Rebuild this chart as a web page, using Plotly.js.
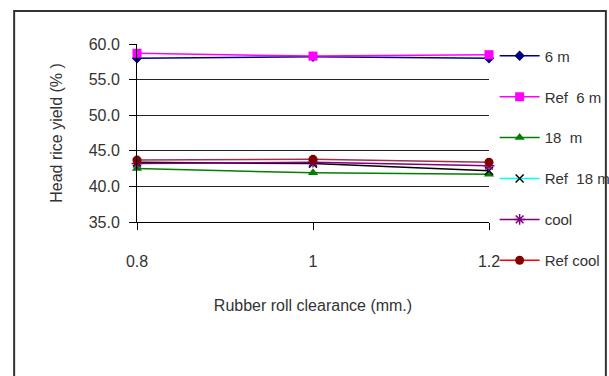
<!DOCTYPE html>
<html>
<head>
<meta charset="utf-8">
<script src="https://cdn.plot.ly/plotly-3.0.1.min.js"></script>
<style>html,body{margin:0;padding:0;background:#fff;}#chart{width:609px;height:376px;}</style>
</head>
<body>
<div id="chart"></div>
<script>
const clearance = [0.8, 1.0, 1.2];
const tickLabels = ["0.8", "1", "1.2"];
const yTicks = [35, 40, 45, 50, 55, 60];
const yTickLabels = ["35.0", "40.0", "45.0", "50.0", "55.0", "60.0"];

const seriesNames = ["6 m", "Ref  6 m", "18  m", "Ref  18 m", "cool", "Ref cool"];
const m6 = [58.0, 58.2, 58.0];
const ref6 = [58.7, 58.3, 58.5];
const m18 = [42.5, 41.9, 41.7];
const ref18 = [43.4, 43.2, 42.2];
const cool = [43.2, 43.4, 42.9];
const refCool = [43.7, 43.8, 43.4];

const plotData = [m6, ref6, m18, ref18, cool, refCool];
const lineColors = ["#000080", "#ff00ff", "#008000", "#000000", "#800080", "#a0304a"];
const legendLineColors = ["#000080", "#ff00ff", "#008000", "#00ffff", "#800080", "#ff0000"];
const markerSymbols = ["diamond", "square", "triangle-up", "x-thin-open", "asterisk-open", "circle"];
const markerColors = ["#000080", "#ff00ff", "#008000", "#000000", "#800080", "#800000"];
const markerSizes = [8, 9, 9, 8, 9, 9];

const drawOrder = [0, 2, 3, 4, 5, 1];
const traces = [];
drawOrder.forEach(i => {
  traces.push({
    x: clearance, y: plotData[i], type: "scatter", mode: "lines+markers",
    name: seriesNames[i], showlegend: false, cliponaxis: false,
    line: {color: lineColors[i], width: 1.5},
    marker: {symbol: markerSymbols[i], size: markerSizes[i], color: markerColors[i],
             line: {color: markerColors[i], width: (i === 3 || i === 4) ? 1.5 : 0}}
  });
});
seriesNames.forEach((nm, i) => {
  traces.push({
    x: [null], y: [null], type: "scatter", mode: "lines+markers",
    name: nm, legendgroup: "g" + i, showlegend: true,
    line: {color: legendLineColors[i], width: 1.5},
    marker: {symbol: markerSymbols[i], size: markerSizes[i], color: markerColors[i],
             line: {color: markerColors[i], width: (i === 3 || i === 4) ? 1.5 : 0}}
  });
});

const fam = "Liberation Sans, Arial, sans-serif";
const txt = "#333";

const layout = {
  width: 609, height: 376,
  margin: {l: 137, r: 120, t: 44, b: 154, autoexpand: false},
  paper_bgcolor: "#fff", plot_bgcolor: "#fff",
  font: {family: fam, size: 16, color: txt},
  showlegend: true,
  legend: {x: 1.016, xanchor: "left", y: 1.025, yanchor: "top",
           traceorder: "grouped", tracegroupgap: 18.4, maxheight: 1,
           font: {family: fam, size: 15, color: txt},
           bgcolor: "rgba(0,0,0,0)", itemwidth: 40},
  xaxis: {
    range: [0.8, 1.2], tickvals: clearance, ticktext: tickLabels,
    showgrid: false, zeroline: false,
    showline: true, linecolor: "#000", linewidth: 1,
    ticks: "outside", ticklen: 7, tickcolor: "#000",
    ticklabelstandoff: 18,
    tickfont: {family: fam, size: 16, color: txt},
    title: {text: "Rubber roll clearance (mm.)", font: {family: fam, size: 16, color: txt}, standoff: 30}
  },
  yaxis: {
    range: [35, 60], tickvals: yTicks, ticktext: yTickLabels,
    showgrid: true, gridcolor: "#222", gridwidth: 1,
    zeroline: false, showline: true, linecolor: "#000", linewidth: 1,
    ticks: "outside", ticklen: 7, tickcolor: "#000",
    ticklabelstandoff: 6,
    tickfont: {family: fam, size: 16, color: txt},
    title: {text: "Head rice yield (% )", font: {family: fam, size: 16, color: txt}, standoff: 22}
  },
  shapes: [{type: "rect", xref: "paper", yref: "paper",
            x0: -0.349, x1: 1.332, y0: -0.95, y1: 1.185,
            line: {color: "#333", width: 2}, fillcolor: "rgba(0,0,0,0)"}]
};

Plotly.newPlot("chart", traces, layout, {displayModeBar: false, staticPlot: true});
</script>
</body>
</html>
